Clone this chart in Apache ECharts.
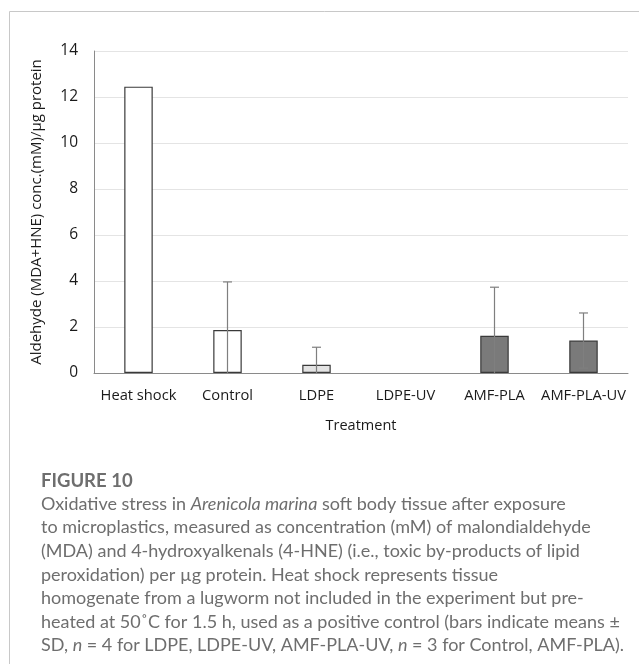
<!DOCTYPE html>
<html>
<head>
<meta charset="utf-8">
<script src="https://cdn.jsdelivr.net/npm/echarts@6/dist/echarts.min.js"></script>
<style>
html,body{margin:0;padding:0;background:#fff;}
#chart{width:639px;height:664px;}
</style>
</head>
<body>
<div id="chart"></div>
<script>
var categories = ['Heat shock', 'Control', 'LDPE', 'LDPE-UV', 'AMF-PLA', 'AMF-PLA-UV'];
var means = [12.45, 1.87, 0.36, 0, 1.62, 1.41];
var sd = [null, 2.09, 0.76, null, 2.11, 1.20];
var barFills = ['#ffffff', '#ffffff', '#e3e3e3', '#e3e3e3', '#7a7a7a', '#7a7a7a'];
var yTicks = [0, 2, 4, 6, 8, 10, 12, 14];
var yTitle = 'Aldehyde (MDA+HNE) conc.(mM)/\u00b5g protein';
var xTitle = 'Treatment';
var figLabel = 'FIGURE 10';
var captionLines = [
  'Oxidative stress in {i|Arenicola marina} soft body tissue after exposure',
  'to microplastics, measured as concentration (mM) of malondialdehyde',
  '(MDA) and 4-hydroxyalkenals (4-HNE) (i.e., toxic by-products of lipid',
  'peroxidation) per \u00b5g protein. Heat shock represents tissue',
  'homogenate from a lugworm not included in the experiment but pre-',
  'heated at 50\u02daC for 1.5 h, used as a positive control (bars indicate means \u00b1',
  'SD, {i|n} = 4 for LDPE, LDPE-UV, AMF-PLA-UV, {i|n} = 3 for Control, AMF-PLA).'
];

var chartFont = 'Open Sans';
var capFont = 'Lato';
var capSize = 18;

var barData = means.map(function (v, i) {
  return { value: v, itemStyle: { color: barFills[i], borderWidth: v > 0 ? 1.2 : 0 } };
});
var errData = [];
means.forEach(function (v, i) {
  if (sd[i] != null) errData.push([i, v + sd[i], Math.max(0, v - sd[i]), v - sd[i] > 0 ? 1 : 0]);
});

var graphics = [
  { type: 'line', shape: { x1: 9.5, y1: 11.5, x2: 639, y2: 11.5 }, style: { stroke: '#c8c8c8', lineWidth: 1 } },
  { type: 'line', shape: { x1: 9.5, y1: 11.5, x2: 9.5, y2: 664 }, style: { stroke: '#c8c8c8', lineWidth: 1 } },
  { type: 'text', left: 41, top: 472, style: { text: figLabel, font: 'bold 18.5px ' + capFont, fill: '#6e6e6e' } }
];
captionLines.forEach(function (ln, k) {
  graphics.push({
    type: 'text', left: 41, top: 495 + k * 23.6,
    style: {
      text: ln, font: capSize + 'px ' + capFont, fill: '#6e6e6e',
      rich: { i: { fontStyle: 'italic', fontFamily: capFont, fontSize: capSize, fill: '#6e6e6e' } }
    }
  });
});

var chart = echarts.init(document.getElementById('chart'));
chart.setOption({
  animation: false,
  backgroundColor: '#ffffff',
  textStyle: { fontFamily: chartFont },
  grid: { left: 94, right: 11, top: 51, bottom: 291, containLabel: false },
  xAxis: {
    type: 'category', data: categories,
    name: xTitle, nameLocation: 'middle', nameGap: 45,
    nameTextStyle: { fontSize: 14.5, color: '#1a1a1a', fontFamily: chartFont },
    axisLine: { lineStyle: { color: '#8a8a8a', width: 1 } },
    axisTick: { show: false },
    axisLabel: { fontSize: 14.7, color: '#1a1a1a', margin: 15, interval: 0, fontFamily: chartFont }
  },
  yAxis: {
    type: 'value', min: 0, max: 14, interval: 2,
    name: yTitle, nameLocation: 'middle', nameGap: 50,
    nameTextStyle: { fontSize: 15, color: '#1a1a1a', fontFamily: chartFont },
    axisLine: { show: true, lineStyle: { color: '#8a8a8a', width: 1 } },
    axisTick: { show: false },
    axisLabel: { fontSize: 15.5, color: '#1a1a1a', margin: 16, fontFamily: chartFont,
      formatter: function (v) { return yTicks.indexOf(v) >= 0 ? String(v) : ''; } },
    splitLine: { lineStyle: { color: '#e4e4e4', width: 1 } }
  },
  series: [
    {
      type: 'bar', data: barData, barWidth: '32%',
      itemStyle: { borderColor: '#3a3a3a', borderWidth: 1.2 }
    },
    {
      type: 'custom', data: errData, z: 5,
      renderItem: function (params, api) {
        var x = api.value(0);
        var top = api.coord([x, api.value(1)]);
        var bot = api.coord([x, api.value(2)]);
        var hasLowCap = api.value(3) === 1;
        var cw = 4.5;
        var children = [
          { type: 'line', shape: { x1: top[0], y1: top[1], x2: bot[0], y2: bot[1] }, style: { stroke: '#7f7f7f', lineWidth: 1.2 } },
          { type: 'line', shape: { x1: top[0] - cw, y1: top[1], x2: top[0] + cw, y2: top[1] }, style: { stroke: '#7f7f7f', lineWidth: 1.2 } }
        ];
        if (hasLowCap) children.push({ type: 'line', shape: { x1: bot[0] - cw, y1: bot[1], x2: bot[0] + cw, y2: bot[1] }, style: { stroke: '#7f7f7f', lineWidth: 1.2 } });
        return { type: 'group', children: children };
      }
    }
  ],
  graphic: graphics
});
</script>
</body>
</html>
